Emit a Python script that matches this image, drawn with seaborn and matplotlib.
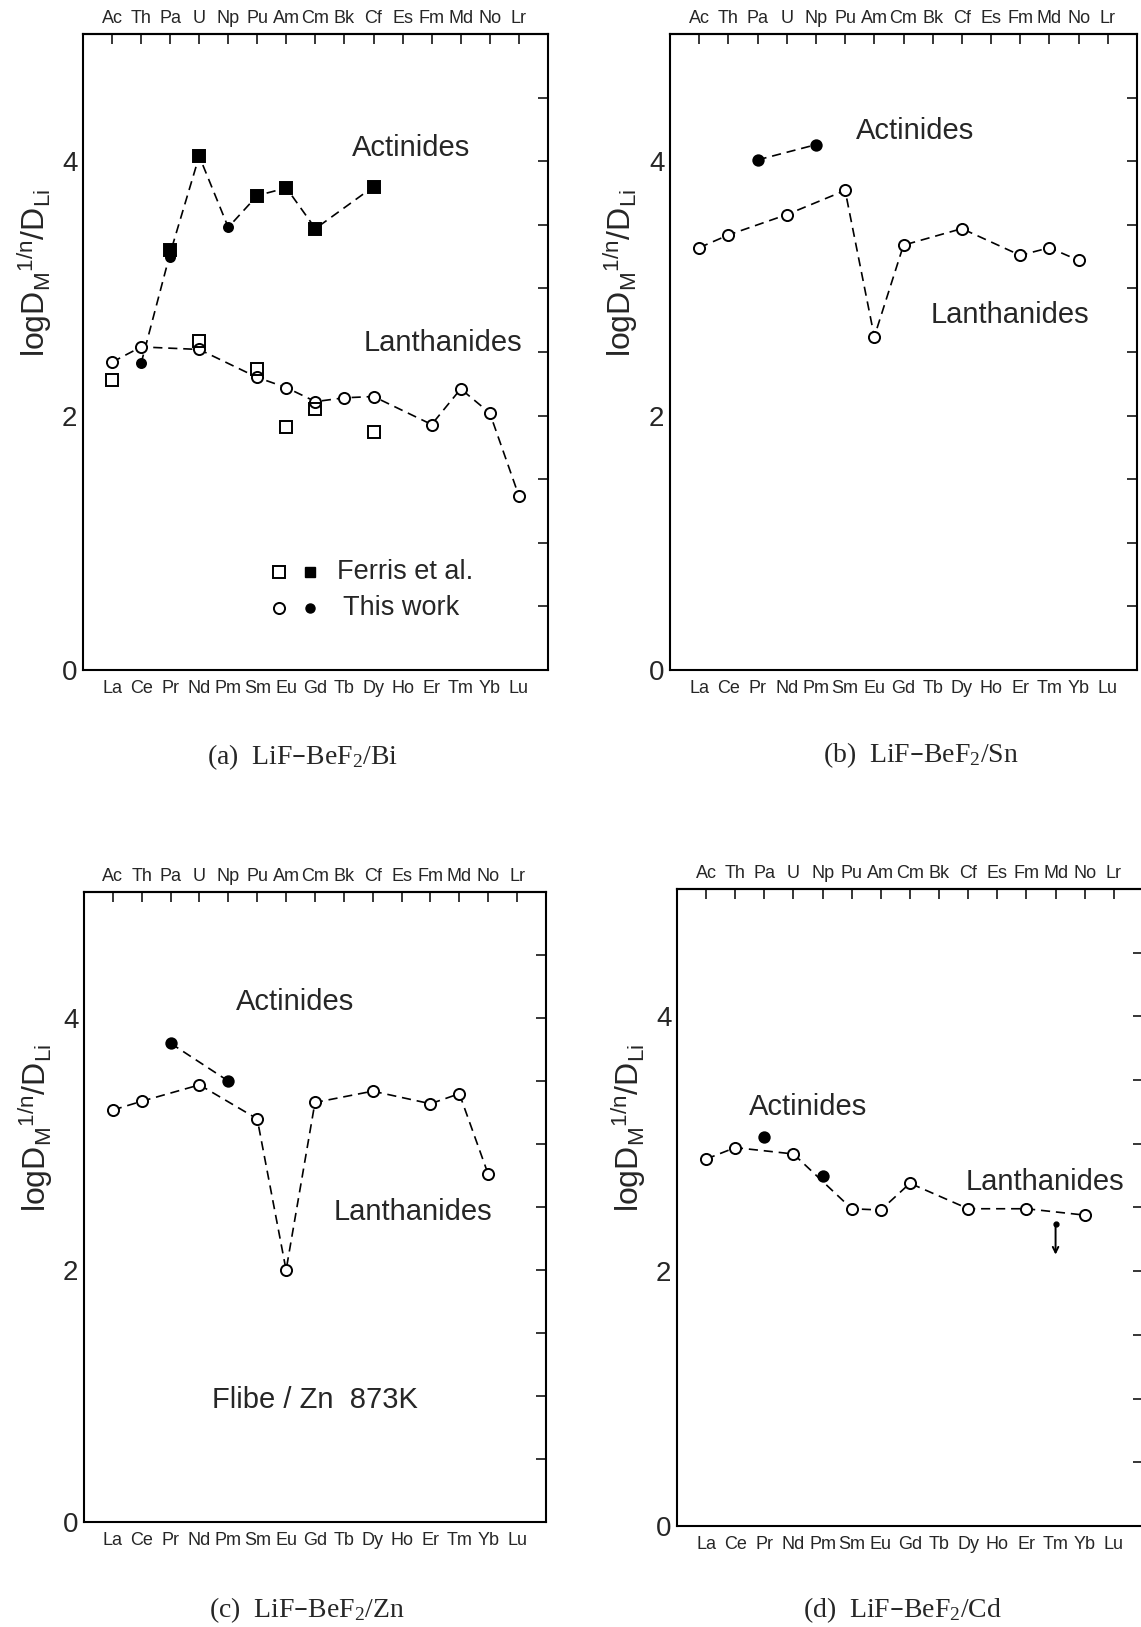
import numpy as np
import pandas as pd
import matplotlib
matplotlib.use("Agg")
import matplotlib.pyplot as plt
import seaborn as sns


# Element order on the two x axes (same columns)
lanthanides = ["La", "Ce", "Pr", "Nd", "Pm", "Sm", "Eu", "Gd", "Tb", "Dy", "Ho", "Er", "Tm", "Yb", "Lu"]
actinides = ["Ac", "Th", "Pa", "U", "Np", "Pu", "Am", "Cm", "Bk", "Cf", "Es", "Fm", "Md", "No", "Lr"]

# (a) LiF-BeF2/Bi
a_ln_work_el = ["La", "Ce", "Nd", "Sm", "Eu", "Gd", "Tb", "Dy", "Er", "Tm", "Yb", "Lu"]
a_ln_work = [2.42, 2.54, 2.52, 2.30, 2.22, 2.11, 2.14, 2.15, 1.93, 2.21, 2.02, 1.37]
a_ln_ferris_el = ["La", "Nd", "Sm", "Eu", "Gd", "Dy"]
a_ln_ferris = [2.28, 2.59, 2.37, 1.91, 2.05, 1.87]
a_an_work_el = ["Th", "Pa", "Np"]
a_an_work = [2.41, 3.25, 3.48]
a_an_ferris_el = ["Pa", "U", "Pu", "Am", "Cm", "Cf"]
a_an_ferris = [3.30, 4.04, 3.73, 3.79, 3.47, 3.80]

# (b) LiF-BeF2/Sn
b_ln_el = ["La", "Ce", "Nd", "Sm", "Eu", "Gd", "Dy", "Er", "Tm", "Yb"]
b_ln = [3.32, 3.42, 3.58, 3.77, 2.62, 3.34, 3.47, 3.26, 3.32, 3.22]
b_an_el = ["Pa", "Np"]
b_an = [4.01, 4.13]

# (c) LiF-BeF2/Zn
c_ln_el = ["La", "Ce", "Nd", "Sm", "Eu", "Gd", "Dy", "Er", "Tm", "Yb"]
c_ln = [3.27, 3.34, 3.47, 3.20, 2.00, 3.33, 3.42, 3.32, 3.40, 2.76]
c_an_el = ["Pa", "Np"]
c_an = [3.80, 3.50]

# (d) LiF-BeF2/Cd
d_ln_el = ["La", "Ce", "Nd", "Sm", "Eu", "Gd", "Dy", "Er", "Yb"]
d_ln = [2.88, 2.97, 2.92, 2.49, 2.48, 2.69, 2.49, 2.49, 2.44]
d_an_el = ["Pa", "Np"]
d_an = [3.05, 2.75]
d_limit_el = ["Tm"]
d_limit = [2.37]

captions = ["(a)  LiF\u2013BeF$_2$/Bi", "(b)  LiF\u2013BeF$_2$/Sn",
            "(c)  LiF\u2013BeF$_2$/Zn", "(d)  LiF\u2013BeF$_2$/Cd"]
ylabel = r"$log{D_M}^{1/n}/D_{Li}$"


sns.set_style("white")
plt.rcParams["font.family"] = ["Liberation Sans", "DejaVu Sans"]
plt.rcParams["mathtext.default"] = "regular"
plt.rcParams["axes.edgecolor"] = "black"

TICK_FONT = ["Liberation Sans", "DejaVu Sans"]
DASH = (0, (5.5, 3.5))


def xpos(names, order):
    return [order.index(n) for n in names]


def series(ax, names, values, order, marker, filled, size, line=True, z=3):
    sns.lineplot(
        x=xpos(names, order), y=values, ax=ax, color="black",
        linestyle=DASH if line else "none", linewidth=1.2,
        marker=marker, markersize=size,
        markerfacecolor="black" if filled else "white",
        markeredgecolor="black", markeredgewidth=1.4,
        errorbar=None, zorder=z,
    )


def setup_axes(ax):
    ax.set_xlim(-1, 15)
    ax.set_ylim(0, 5)
    ax.set_xticks(range(len(lanthanides)), lanthanides)
    yt = np.arange(0, 4.6, 0.5)
    ax.set_yticks(yt, [f"{v:g}" if v in (0, 2, 4) else "" for v in yt])
    ax.tick_params(direction="in", length=7, width=1.3, right=True, top=False)
    ax.tick_params(axis="x", labelsize=13, pad=7)
    ax.tick_params(axis="y", labelsize=20, pad=4)
    for lab in ax.get_xticklabels():
        lab.set_family(TICK_FONT)
    for s in ax.spines.values():
        s.set_linewidth(1.5)

    sec = ax.secondary_xaxis("top")
    sec.set_xticks(range(len(actinides)), actinides)
    sec.tick_params(direction="in", length=7, width=1.3, labelsize=13, pad=5)
    for lab in sec.get_xticklabels():
        lab.set_family(TICK_FONT)
    sec.spines["top"].set_linewidth(1.5)

    ax.set_ylabel(ylabel, fontsize=23)
    ax.yaxis.label.set_va("center")
    ax.yaxis.set_label_coords(-0.105, 0.625)


fig = plt.figure(figsize=(11.41, 16.27), dpi=100)
ax_a = fig.add_axes([0.0727, 0.5882, 0.4075, 0.3909])
ax_b = fig.add_axes([0.5872, 0.5882, 0.4093, 0.3909])
ax_c = fig.add_axes([0.0736, 0.0645, 0.4049, 0.3872])
ax_d = fig.add_axes([0.5933, 0.0621, 0.4084, 0.3915])

for ax in (ax_a, ax_b, ax_c, ax_d):
    setup_axes(ax)

# (a): lines first, then markers on top
series(ax_a, a_ln_work_el, a_ln_work, lanthanides, "o", False, 8, z=3)
sns.lineplot(
    x=xpos(a_an_work_el, actinides) + xpos(a_an_ferris_el, actinides),
    y=a_an_work + a_an_ferris, ax=ax_a, color="black", linestyle=DASH,
    linewidth=1.2, estimator="mean", errorbar=None, zorder=2,
)
sns.lineplot(x=xpos(a_ln_ferris_el, lanthanides), y=a_ln_ferris, ax=ax_a,
             linestyle="none", marker="s", markersize=8.5, markerfacecolor="none",
             markeredgecolor="black", markeredgewidth=1.4, errorbar=None, zorder=4)
series(ax_a, a_an_ferris_el, a_an_ferris, actinides, "s", True, 9, line=False, z=4)
series(ax_a, a_an_work_el, a_an_work, actinides, "o", True, 6.5, line=False, z=5)
ax_a.text(10.3, 4.10, "Actinides", fontsize=21, ha="center", va="center")
ax_a.text(11.4, 2.57, "Lanthanides", fontsize=21, ha="center", va="center")

# legend drawn as marks at fixed legend rows
leg_rows = [0.77, 0.49]
ax_a.plot([5.75], [leg_rows[0]], "s", ms=8.5, mfc="white", mec="black", mew=1.4)
ax_a.plot([6.8], [leg_rows[0]], "s", ms=7.5, mfc="black", mec="black")
ax_a.plot([5.75], [leg_rows[1]], "o", ms=8, mfc="white", mec="black", mew=1.4)
ax_a.plot([6.8], [leg_rows[1]], "o", ms=6.5, mfc="black", mec="black")
ax_a.text(7.75, leg_rows[0], "Ferris et al.", fontsize=19.5, va="center")
ax_a.text(7.95, leg_rows[1], "This work", fontsize=19.5, va="center")

# (b)
series(ax_b, b_ln_el, b_ln, lanthanides, "o", False, 8)
series(ax_b, b_an_el, b_an, actinides, "o", True, 7.5)
ax_b.text(7.4, 4.24, "Actinides", fontsize=21, ha="center", va="center")
ax_b.text(10.65, 2.79, "Lanthanides", fontsize=21, ha="center", va="center")

# (c)
series(ax_c, c_ln_el, c_ln, lanthanides, "o", False, 8)
series(ax_c, c_an_el, c_an, actinides, "o", True, 7.5)
ax_c.text(6.3, 4.13, "Actinides", fontsize=21, ha="center", va="center")
ax_c.text(10.4, 2.46, "Lanthanides", fontsize=21, ha="center", va="center")
ax_c.text(7.0, 0.97, "Flibe / Zn  873K", fontsize=21, ha="center", va="center")

# (d)
series(ax_d, d_ln_el, d_ln, lanthanides, "o", False, 8)
series(ax_d, d_an_el, d_an, actinides, "o", True, 7.5, line=False, z=5)
for xl, yl in zip(xpos(d_limit_el, lanthanides), d_limit):
    ax_d.annotate("", xy=(xl, yl - 0.24), xytext=(xl, yl),
                  arrowprops=dict(arrowstyle="->", lw=1.4, color="black",
                                  shrinkA=0, shrinkB=0))
    ax_d.plot([xl], [yl], "o", ms=3.5, color="black")
ax_d.text(3.5, 3.29, "Actinides", fontsize=21, ha="center", va="center")
ax_d.text(11.65, 2.70, "Lanthanides", fontsize=21, ha="center", va="center")

# captions under each panel
cap_pos = [(0.265, 0.5347), (0.807, 0.536), (0.269, 0.0104), (0.7905, 0.0104)]
for (cx, cy), cap in zip(cap_pos, captions):
    fig.text(cx, cy, cap, fontsize=20, ha="center", va="center",
             family=["Liberation Serif", "DejaVu Serif"])

fig.savefig("out.png", dpi=100)
